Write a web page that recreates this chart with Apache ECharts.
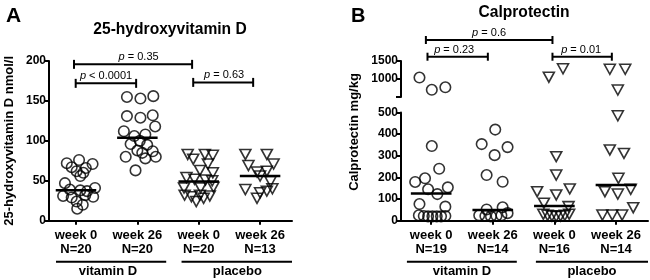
<!DOCTYPE html>
<html><head><meta charset="utf-8">
<script src="https://cdn.jsdelivr.net/npm/echarts@6/dist/echarts.min.js"></script>
<style>html,body{margin:0;padding:0;background:#fff}#c{width:650px;height:280px}</style>
</head><body><div id="c"></div>
<script>
// ---------- DATA ----------
const xLabelsA = ['week 0\nN=20', 'week 26\nN=20', 'week 0\nN=20', 'week 26\nN=13'];
const xLabelsB = ['week 0\nN=19', 'week 26\nN=14', 'week 0\nN=16', 'week 26\nN=14'];
const groupNames = ['vitamin D', 'placebo'];
const yTicksA = [0, 50, 100, 150, 200];
const yTicksBLow = [0, 100, 200, 300, 400, 500];
const yTicksBHigh = [1000, 1500];

// [jitter within category, value]
const vitD_w0_A = [[-0.15,72],[0.05,76],[0.27,71],[-0.07,67],[0.16,66],[0.01,62],[0.12,60],[0.07,56],[-0.18,47],[0.31,41],[-0.10,39],[0.07,38],[0.18,37],[-0.21,31],[-0.07,29],[0.15,32],[0.28,30],[0.01,24],[0.11,20],[0.02,15]];
const vitD_w26_A = [[-0.17,155],[0.05,153],[0.26,156],[-0.17,131],[0.05,129],[0.25,132],[0.29,118],[-0.22,112],[-0.05,106],[0.13,108],[-0.11,96],[0.16,95],[0.00,88],[-0.19,80],[0.08,85],[0.25,87],[0.13,78],[0.30,80],[-0.03,63],[0.04,100]];
const plac_w0_A = [[-0.18,83],[0.10,83],[0.23,82],[-0.09,77],[0.15,71],[0.02,63],[0.23,60],[-0.20,54],[-0.07,52],[0.11,51],[0.22,50],[-0.24,41],[0.03,41],[0.24,42],[-0.23,32],[-0.12,30],[0.02,32],[0.18,31],[-0.04,24],[0.08,28]];
const plac_w26_A = [[-0.24,83],[0.11,83],[-0.19,69],[0.22,71],[-0.05,61],[0.11,62],[0.00,56],[0.17,49],[-0.24,39],[0.00,35],[0.11,37],[0.20,40],[-0.05,28]];
const meansA = [38, 104, 49, 56];

const vitD_w0_B = [[-0.19,1040],[0.01,700],[0.23,770],[0.01,345],[0.13,240],[-0.26,179],[-0.10,196],[-0.05,145],[0.10,123],[0.27,154],[-0.19,77],[0.23,65],[-0.20,25],[-0.12,22],[-0.05,20],[0.02,20],[0.09,20],[0.16,20],[0.23,22]];
const vitD_w26_B = [[0.04,421],[-0.18,354],[0.24,340],[0.03,303],[-0.10,211],[0.16,180],[-0.10,52],[0.16,62],[-0.22,25],[-0.12,22],[-0.03,20],[0.06,22],[0.14,25],[0.24,35]];
const plac_w0_B = [[-0.09,1050],[0.14,1285],[0.03,296],[0.03,211],[-0.28,134],[0.03,119],[0.25,147],[-0.17,81],[0.23,65],[-0.18,30],[-0.11,25],[-0.04,22],[0.03,20],[0.10,22],[0.17,25],[0.24,30]];
const plac_w26_B = [[-0.10,1270],[0.15,1270],[0.03,694],[0.03,485],[-0.10,327],[0.13,311],[0.04,196],[-0.18,134],[0.03,123],[0.24,145],[0.28,60],[-0.22,26],[-0.06,26],[0.10,26]];
const meansB = [126, 50, 68, 165];

// comparison brackets: [from, to, level]
const bracketsA = [[0.967, 2.892, 195.8], [0.995, 1.98, 172], [2.91, 3.887, 173.2]];
const bracketLabelsA = ['= 0.35', '< 0.0001', '= 0.63'];
const bracketLabelPosA = [2.02, 1.49, 3.414];
const bracketsB = [[0.914, 2.969, 2083], [0.94, 1.92, 1619], [2.969, 3.933, 1619]];
const bracketLabelsB = ['= 0.6', '= 0.23', '= 0.01'];
const bracketLabelPosB = [1.94, 1.373, 3.435];

// group underlines: [from, to, label centre]
const groupSpansA = [[0.674, 2.47, 1.52], [2.72, 4.52, 3.63]];
const groupSpansB = [[0.606, 2.39, 1.5], [2.70, 4.52, 3.61]];

// ---------- BUILD ----------
const FONT = 'Liberation Sans, Arial, Helvetica, sans-serif';
const BLACK = '#000';
const toPts = (arr, cat) => arr.map(d => [cat + d[0], d[1]]);

const circleStyle = {color: 'rgba(255,255,255,0)', borderColor: BLACK, borderWidth: 1.6};
function scatter(data, shape, xi, yi) {
  return {
    type: 'scatter', xAxisIndex: xi, yAxisIndex: yi, data: data,
    symbol: shape === 'c' ? 'circle' : 'triangle',
    symbolSize: shape === 'c' ? 10.5 : [11, 10],
    symbolRotate: shape === 'c' ? 0 : 180,
    itemStyle: circleStyle, silent: true, z: 3
  };
}

const MEAN_HALF = 0.33;
function meanSeries(means, xi, yi) {
  return {
    type: 'custom', xAxisIndex: xi, yAxisIndex: yi, silent: true, z: 4,
    data: means.map((m, i) => [i + 1, m]),
    renderItem: (params, api) => {
      const c = api.value(0), m = api.value(1);
      const p1 = api.coord([c - MEAN_HALF, m]), p2 = api.coord([c + MEAN_HALF, m]);
      return {type: 'line', shape: {x1: p1[0], y1: p1[1], x2: p2[0], y2: p2[1]},
              style: {stroke: BLACK, lineWidth: 2.5}};
    }
  };
}

function bracketSeries(brackets, labels, labelPos, xi, yi, h) {
  return {
    type: 'custom', xAxisIndex: xi, yAxisIndex: yi, silent: true, clip: false, z: 5,
    data: brackets,
    renderItem: (params, api) => {
      const i = params.dataIndex;
      const a = api.coord([api.value(0), api.value(2)]);
      const b = api.coord([api.value(1), api.value(2)]);
      const t = api.coord([labelPos[i], api.value(2)]);
      return {type: 'group', children: [
        {type: 'line', shape: {x1: a[0], y1: a[1], x2: b[0], y2: b[1]}, style: {stroke: BLACK, lineWidth: 2}},
        {type: 'line', shape: {x1: a[0], y1: a[1] - h, x2: a[0], y2: a[1] + h}, style: {stroke: BLACK, lineWidth: 2}},
        {type: 'line', shape: {x1: b[0], y1: b[1] - h, x2: b[0], y2: b[1] + h}, style: {stroke: BLACK, lineWidth: 2}},
        {type: 'text', style: {
          text: '{i|p} ' + labels[i], x: t[0], y: t[1] - 1.5, align: 'center', verticalAlign: 'bottom',
          fill: BLACK, fontSize: 11, fontFamily: FONT,
          rich: {i: {fontStyle: 'italic', fontSize: 11, fontFamily: FONT, fill: BLACK}}
        }}
      ]};
    }
  };
}

function groupSeries(spans, xi, yi) {
  return {
    type: 'custom', xAxisIndex: xi, yAxisIndex: yi, silent: true, clip: false, z: 5,
    data: spans,
    renderItem: (params, api) => {
      const i = params.dataIndex;
      const a = api.coord([api.value(0), 0]);
      const b = api.coord([api.value(1), 0]);
      const t = api.coord([api.value(2), 0]);
      return {type: 'group', children: [
        {type: 'line', shape: {x1: a[0], y1: a[1] + 41, x2: b[0], y2: b[1] + 41}, style: {stroke: BLACK, lineWidth: 2}},
        {type: 'text', style: {text: groupNames[i], x: t[0], y: t[1] + 50.5, align: 'center', verticalAlign: 'middle',
          fill: BLACK, fontSize: 13, fontWeight: 'bold', fontFamily: FONT}}
      ]};
    }
  };
}

const axisLineStyle = {show: true, lineStyle: {color: BLACK, width: 2}};
const tickStyle = {show: true, length: 5, lineStyle: {color: BLACK, width: 2}};
const yLabel = {color: BLACK, fontSize: 12, fontWeight: 'bold', fontFamily: FONT, margin: 3};

function xAxisCat(grid, min, max, labels, show) {
  return {
    type: 'value', gridIndex: grid, min: min, max: max, show: show,
    axisLine: axisLineStyle,
    axisTick: {show: true, length: 4, lineStyle: {color: BLACK, width: 2}, customValues: [1, 2, 3, 4]},
    axisLabel: {customValues: [1, 2, 3, 4], formatter: v => labels[Math.round(v) - 1],
      color: BLACK, fontSize: 13, fontWeight: 'bold', fontFamily: FONT, lineHeight: 13.5, margin: 8},
    splitLine: {show: false}
  };
}

const bSplit = arr => ({hi: arr.filter(d => d[1] >= 500), lo: arr.filter(d => d[1] < 500)});

const series = [
  scatter(toPts(vitD_w0_A, 1), 'c', 0, 0),
  scatter(toPts(vitD_w26_A, 2), 'c', 0, 0),
  scatter(toPts(plac_w0_A, 3), 't', 0, 0),
  scatter(toPts(plac_w26_A, 4), 't', 0, 0),
  meanSeries(meansA, 0, 0),
  bracketSeries(bracketsA, bracketLabelsA, bracketLabelPosA, 0, 0, 4.5),
  groupSeries(groupSpansA, 0, 0),
  meanSeries(meansB, 2, 2),
  bracketSeries(bracketsB, bracketLabelsB, bracketLabelPosB, 1, 1, 4),
  groupSeries(groupSpansB, 2, 2)
];
[[vitD_w0_B, 1, 'c'], [vitD_w26_B, 2, 'c'], [plac_w0_B, 3, 't'], [plac_w26_B, 4, 't']].forEach(([arr, cat, sh]) => {
  const s = bSplit(arr);
  series.push(scatter(toPts(s.hi, cat), sh, 1, 1));
  series.push(scatter(toPts(s.lo, cat), sh, 2, 2));
});

const option = {
  animation: false,
  backgroundColor: '#fff',
  textStyle: {fontFamily: FONT},
  title: [
    {text: 'A', left: 6, top: 6, padding: 0, textStyle: {fontSize: 21, fontWeight: 'bold', color: BLACK, fontFamily: FONT}},
    {text: '25-hydroxyvitamin D', left: 170, top: 22, padding: 0, textAlign: 'center', textStyle: {fontSize: 15.6, fontWeight: 'bold', color: BLACK, fontFamily: FONT}},
    {text: 'B', left: 351, top: 6, padding: 0, textStyle: {fontSize: 20, fontWeight: 'bold', color: BLACK, fontFamily: FONT}},
    {text: 'Calprotectin', left: 524, top: 5, padding: 0, textAlign: 'center', textStyle: {fontSize: 15.6, fontWeight: 'bold', color: BLACK, fontFamily: FONT}}
  ],
  grid: [
    {left: 49, top: 61, width: 243, height: 159.7},
    {left: 401, top: 61, width: 247, height: 36},
    {left: 401, top: 112.5, width: 247, height: 108.2},
    {left: 401, top: 61, width: 247, height: 142}
  ],
  xAxis: [
    xAxisCat(0, 0.56, 4.52, xLabelsA, true),
    {type: 'value', gridIndex: 1, min: 0.51, max: 4.52, show: false},
    xAxisCat(2, 0.51, 4.52, xLabelsB, true),
    {type: 'value', gridIndex: 3, min: 0.51, max: 4.52, show: false}
  ],
  yAxis: [
    {type: 'value', gridIndex: 0, min: yTicksA[0], max: yTicksA[yTicksA.length - 1], interval: 50,
     axisLine: axisLineStyle, axisTick: tickStyle, axisLabel: yLabel, splitLine: {show: false},
     name: '25-hydroxyvitamin D nmol/l', nameLocation: 'middle', nameGap: 33,
     nameTextStyle: {color: BLACK, fontSize: 13, fontWeight: 'bold', fontFamily: FONT}},
    {type: 'value', gridIndex: 1, min: 500, max: yTicksBHigh[yTicksBHigh.length - 1], interval: 500,
     axisLine: axisLineStyle, axisTick: tickStyle,
     axisLabel: Object.assign({}, yLabel, {formatter: v => (yTicksBHigh.indexOf(v) >= 0 ? String(v) : '')}),
     splitLine: {show: false}},
    {type: 'value', gridIndex: 2, min: yTicksBLow[0], max: yTicksBLow[yTicksBLow.length - 1], interval: 100,
     axisLine: axisLineStyle, axisTick: tickStyle, axisLabel: yLabel, splitLine: {show: false}},
    {type: 'value', gridIndex: 3, min: 0, max: 1,
     axisLine: {show: false}, axisTick: {show: false}, axisLabel: {show: false}, splitLine: {show: false},
     name: 'Calprotectin mg/kg', nameLocation: 'middle', nameGap: 40,
     nameTextStyle: {color: BLACK, fontSize: 13, fontWeight: 'bold', fontFamily: FONT}}
  ],
  series: series
};
const chart = echarts.init(document.getElementById('c'), null, {renderer: 'canvas'});
chart.setOption(option);
</script></body></html>
